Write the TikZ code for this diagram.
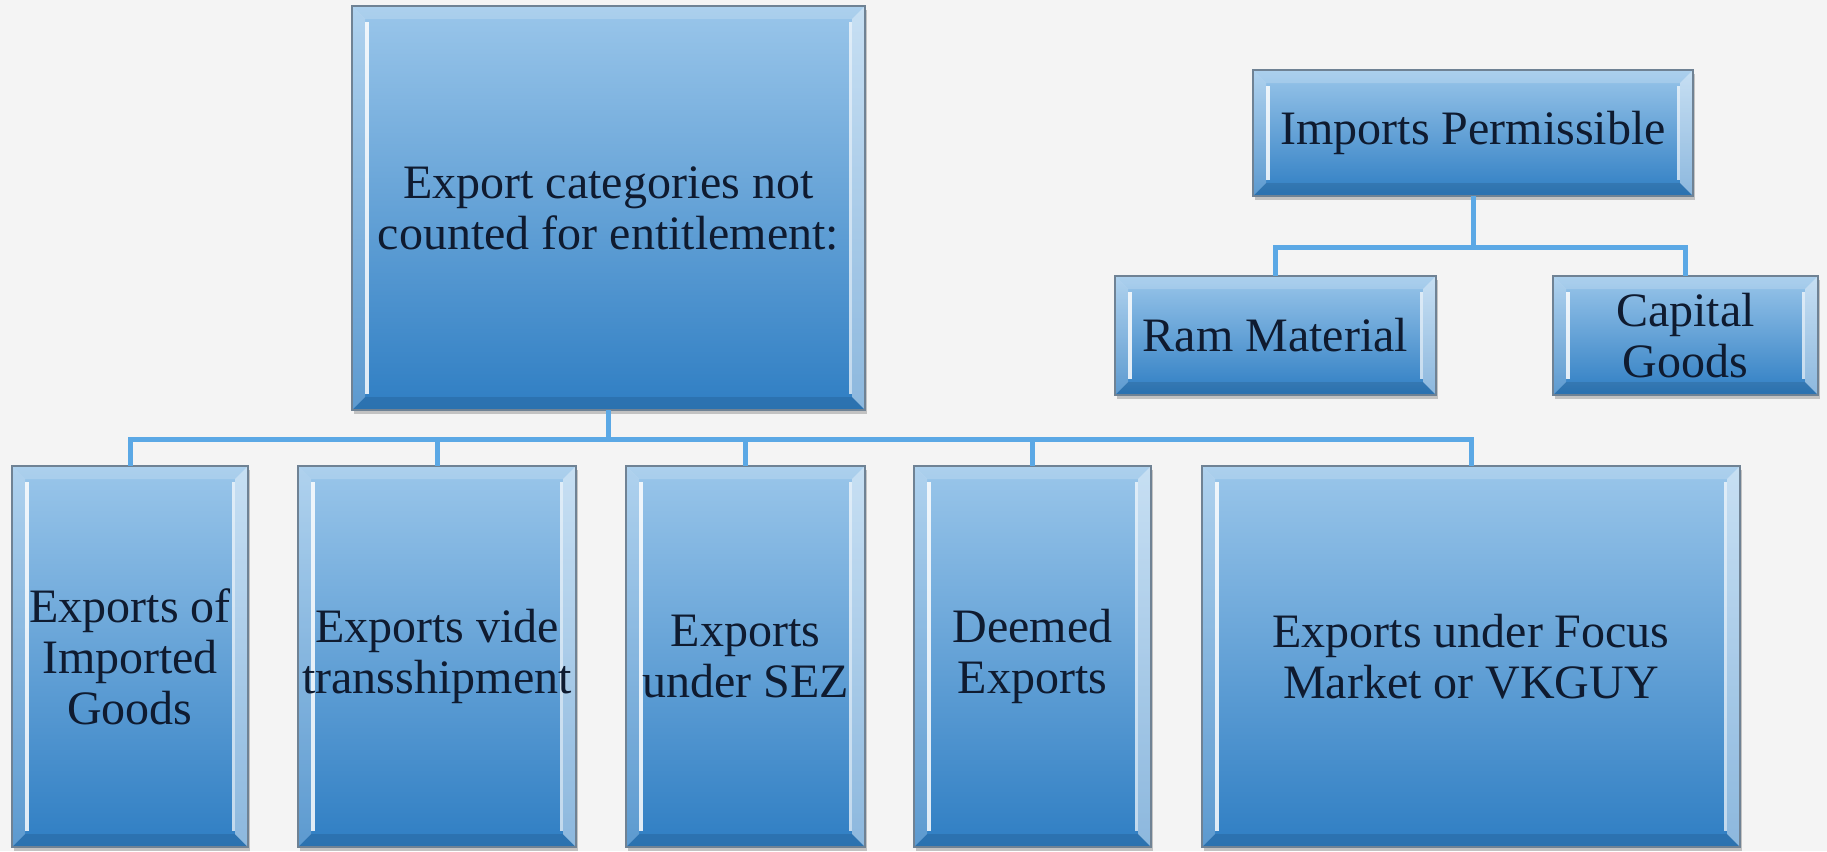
\documentclass[tikz,border=0pt]{standalone}
\usepackage{fontspec}
\setmainfont{Liberation Serif}
\usetikzlibrary{shadows,calc}
\definecolor{bgc}{HTML}{F4F4F4}
\definecolor{cA}{HTML}{9AC6EA}
\definecolor{cB}{HTML}{5C9DD3}
\definecolor{cC}{HTML}{2F7EC3}
\definecolor{frame}{HTML}{6F8294}
\definecolor{txt}{HTML}{0F1B30}
\definecolor{conn}{HTML}{5BA8E5}
\newcommand\bevelpaint{%
  \path (path picture bounding box.north west) coordinate (q1)
        (path picture bounding box.north east) coordinate (q2)
        (path picture bounding box.south east) coordinate (q3)
        (path picture bounding box.south west) coordinate (q4);
  % top band
  \fill[white,opacity=.18] (q1) -- (q2) -- ([shift={(-13pt,-13pt)}]q2) -- ([shift={(13pt,-13pt)}]q1) -- cycle;
  % bottom band
  \fill[black,opacity=.10] (q4) -- (q3) -- ([shift={(-13pt,13pt)}]q3) -- ([shift={(13pt,13pt)}]q4) -- cycle;
  % left band
  \fill[white,opacity=.22] (q1) -- (q4) -- ([shift={(13pt,13pt)}]q4) -- ([shift={(13pt,-13pt)}]q1) -- cycle;
  % right band
  \fill[white,opacity=.45] (q2) -- (q3) -- ([shift={(-13pt,13pt)}]q3) -- ([shift={(-13pt,-13pt)}]q2) -- cycle;
  % highlights
  \draw[white,opacity=.85,line width=4pt] ([shift={(15pt,-16pt)}]q1) -- ([shift={(15pt,16pt)}]q4);
  \draw[white,opacity=.7,line width=3pt] ([shift={(-15pt,-16pt)}]q2) -- ([shift={(-15pt,16pt)}]q3);
}
\tikzset{
  box/.style={draw=frame, line width=1.2pt, inner sep=0pt, outer sep=0pt,
    align=center, text=txt, font=\fontsize{48}{51}\selectfont,
    top color=cA, middle color=cB, bottom color=cC,
    drop shadow={shadow xshift=2pt, shadow yshift=-4pt, opacity=.35, fill=black!60},
    path picture={\bevelpaint}},
  link/.style={draw=conn, line width=5pt}
}
\begin{document}
\begin{tikzpicture}[x=1pt,y=-1pt]
\fill[bgc] (0,0) rectangle (1827,851);
\useasboundingbox (0,0) rectangle (1827,851);
\coordinate (busA) at (0,439);
\coordinate (busB) at (0,247);
% connectors first (behind boxes)
\node[box, minimum width=513pt, minimum height=404pt] (big) at (608.5,208) {Export categories not\\counted for entitlement:};
\node[box, minimum width=440pt, minimum height=126pt] (imp) at (1473,133) {Imports Permissible};
\node[box, minimum width=321pt, minimum height=119pt] (ram) at (1275.5,335.5) {Ram Material};
\node[box, minimum width=265pt, minimum height=119pt] (cap) at (1685.5,335.5) {Capital\\Goods};
\node[box, minimum width=236pt, minimum height=381pt] (b1) at (130,656.5) {Exports of\\Imported\\Goods};
\node[box, minimum width=278pt, minimum height=381pt] (b2) at (437,656.5) {Exports vide\\transshipment};
\node[box, minimum width=239pt, minimum height=381pt] (b3) at (745.5,656.5) {Exports\\under SEZ};
\node[box, minimum width=237pt, minimum height=381pt] (b4) at (1032.5,656.5) {Deemed\\Exports};
\node[box, minimum width=538pt, minimum height=381pt] (b5) at (1471,656.5) {Exports under Focus\\Market or VKGUY};
\foreach \t in {b1,b2,b3,b4,b5}
  \draw[link] (big.south) -- (big.south |- busA) -| (\t.north);
\draw[link] (imp.south) -- (imp.south |- busB) -| (ram.north);
\draw[link] (imp.south) -- (imp.south |- busB) -| (cap.north);
\end{tikzpicture}
\end{document}
